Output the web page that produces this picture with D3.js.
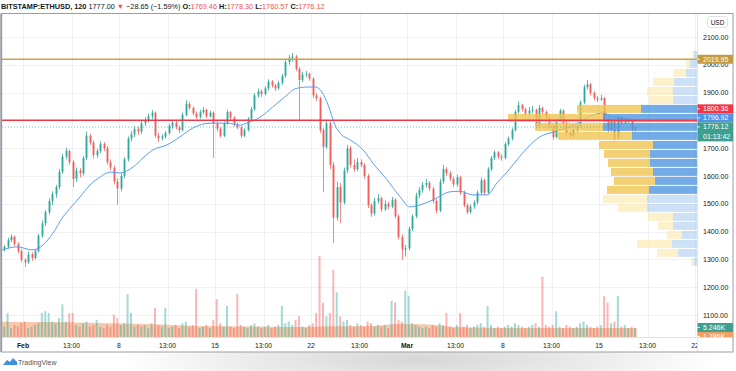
<!DOCTYPE html>
<html><head><meta charset="utf-8">
<script src="https://cdn.jsdelivr.net/npm/d3@7/dist/d3.min.js"></script>
<style>body{margin:0;background:#fff}svg{display:block;font-family:"Liberation Sans",Arial,sans-serif}</style>
</head><body><svg id="c" width="736" height="371"></svg>
<script>
// ---------- DATA (6-hour bars from 2021-01-30 12:00 UTC) ----------
const barStart = "2021-01-30T12:00:00Z";
const barHours = 6;
const opens = [1335,1345,1370,1382,1355,1330,1298,1290,1318,1305,
1330,1385,1430,1470,1510,1535,1560,1615,1670,1690,
1650,1590,1620,1610,1665,1745,1720,1675,1690,1715,
1700,1650,1630,1580,1555,1600,1660,1735,1750,1770,
1760,1790,1800,1815,1828,1745,1735,1742,1755,1780,
1792,1775,1765,1820,1860,1845,1825,1812,1830,1838,
1815,1828,1790,1770,1745,1790,1830,1810,1785,1775,
1745,1765,1805,1840,1890,1905,1895,1915,1940,1925,
1915,1935,1960,2010,2025,2030,1985,1945,1965,1968,
1950,1890,1880,1765,1705,1790,1640,1450,1560,1505,
1620,1700,1640,1625,1650,1640,1600,1495,1465,1510,
1520,1480,1500,1490,1515,1455,1380,1335,1340,1410,
1455,1530,1550,1568,1575,1555,1510,1475,1580,1625,
1610,1590,1570,1595,1540,1495,1470,1490,1505,1540,
1585,1540,1625,1665,1685,1670,1665,1715,1735,1765,
1830,1855,1840,1825,1835,1838,1780,1845,1830,1810,
1780,1740,1800,1835,1790,1755,1745,1765,1780,1865,
1920,1930,1898,1880,1875,1880,1805,1765,1795,1735,
1810,1790,1795,1800,1769.46];
const highs = [1352,1378,1390,1386,1362,1338,1305,1328,1326,1338,
1392,1440,1478,1520,1545,1568,1625,1680,1702,1695,
1658,1630,1628,1672,1760,1752,1728,1698,1725,1722,
1708,1660,1638,1592,1610,1668,1742,1762,1780,1778,
1798,1812,1825,1837,1832,1755,1750,1762,1788,1800,
1798,1782,1828,1873,1866,1850,1832,1838,1848,1842,
1835,1832,1798,1776,1796,1838,1834,1815,1792,1780,
1772,1812,1848,1898,1915,1912,1922,1948,1945,1932,
1942,1968,2018,2035,2042,2036,1992,1975,1978,1972,
1955,1898,1885,1772,1802,1795,1650,1580,1575,1630,
1712,1708,1660,1665,1660,1646,1608,1502,1522,1535,
1526,1512,1508,1525,1520,1462,1390,1352,1418,1462,
1540,1560,1578,1590,1582,1562,1518,1590,1640,1632,
1618,1598,1605,1600,1548,1502,1498,1512,1548,1595,
1590,1632,1672,1692,1690,1678,1722,1742,1772,1838,
1868,1860,1846,1848,1852,1842,1855,1850,1836,1815,
1786,1808,1842,1840,1796,1762,1772,1788,1872,1928,
1945,1935,1905,1888,1892,1885,1812,1802,1800,1818,
1815,1802,1808,1805,1778.30];
const lows = [1328,1340,1362,1348,1322,1290,1273,1284,1295,1300,
1325,1378,1420,1462,1495,1522,1552,1608,1660,1640,
1560,1578,1595,1602,1658,1712,1662,1665,1682,1690,
1640,1620,1570,1496,1545,1592,1652,1725,1740,1748,
1752,1780,1792,1805,1738,1722,1728,1735,1748,1770,
1768,1755,1760,1815,1838,1818,1805,1806,1822,1808,
1810,1665,1760,1738,1740,1785,1802,1778,1768,1736,
1740,1760,1800,1835,1882,1885,1890,1908,1918,1905,
1910,1928,1955,2000,2012,1978,1801,1938,1955,1942,
1880,1870,1755,1542,1698,1625,1359,1440,1430,1498,
1610,1630,1615,1618,1632,1590,1485,1453,1458,1500,
1470,1474,1480,1484,1448,1372,1298,1310,1332,1402,
1448,1520,1540,1558,1545,1502,1466,1470,1572,1600,
1582,1560,1562,1532,1488,1462,1464,1482,1498,1532,
1532,1535,1618,1658,1662,1655,1660,1708,1728,1760,
1825,1832,1815,1818,1826,1770,1775,1822,1802,1772,
1730,1735,1795,1782,1745,1732,1740,1758,1775,1858,
1912,1890,1872,1866,1870,1798,1758,1760,1728,1730,
1782,1785,1790,1760,1760.57];
const closes = [1345,1370,1382,1355,1330,1298,1290,1318,1305,1330,
1385,1430,1470,1510,1535,1560,1615,1670,1690,1650,
1590,1620,1610,1665,1745,1720,1675,1690,1715,1700,
1650,1630,1580,1555,1600,1660,1735,1750,1770,1760,
1790,1800,1815,1828,1745,1735,1742,1755,1780,1792,
1775,1765,1820,1860,1845,1825,1812,1830,1838,1815,
1828,1790,1770,1745,1790,1830,1810,1785,1775,1745,
1765,1805,1840,1890,1905,1895,1915,1940,1925,1915,
1935,1960,2010,2025,2030,1985,1945,1965,1968,1950,
1890,1880,1765,1705,1790,1640,1450,1560,1505,1620,
1700,1640,1625,1650,1640,1600,1495,1465,1510,1520,
1480,1500,1490,1515,1455,1380,1335,1340,1410,1455,
1530,1550,1568,1575,1555,1510,1475,1580,1625,1610,
1590,1570,1595,1540,1495,1470,1490,1505,1540,1585,
1540,1625,1665,1685,1670,1665,1715,1735,1765,1830,
1855,1840,1825,1835,1838,1780,1845,1830,1810,1780,
1740,1800,1835,1790,1755,1745,1765,1780,1865,1920,
1930,1898,1880,1875,1880,1805,1765,1795,1735,1810,
1790,1795,1800,1766,1776.12];
// volume in thousands
const volumes = [6,14,5,7,6,8,9,5,6,7,
8,14,15,14,9,8,11,19,9,14,
14,7,6,8,9,6,7,10,6,5,
7,6,13,11,7,8,25,14,6,7,
6,7,5,8,17,7,6,17,5,6,
7,5,8,9,6,7,28,5,6,7,
5,10,22,8,6,18,6,5,25,7,
6,5,7,8,6,5,6,7,5,6,
7,18,8,9,7,10,12,6,5,7,
8,14,47,20,12,14,39,26,12,9,
10,7,6,8,7,6,9,8,6,7,
6,7,5,21,20,10,9,27,24,8,
7,6,5,6,5,7,6,8,7,14,
6,5,7,14,6,7,5,6,7,8,
6,18,7,5,6,5,6,7,6,8,
7,6,5,6,7,8,6,35,7,6,
7,15,6,5,7,6,5,6,8,9,
7,6,5,6,7,24,20,8,9,24,
6,7,5,6,5];
// moving average of price (day offsets from Feb 1)
const maDays = [-1.53,-0.44,0.73,1.46,2.19,2.92,3.43,4.16,4.89,5.61,6.34,7.07,8.02,8.75,9.48,10.5,11.45,12.4,13.64,14.88,15.82,16.3,17.3,18.2,19.25,19.8,20.7,21.3,21.8,22.25,22.75,23.1,23.85,24.8,25.5,26.55,27.5,28.2,28.95,29.9,31.13,31.86,32.8,33.83,34.56,35.29,36.02,36.75,37.7,38.65,39.67,40.62,41.56,42.29,43.02,43.75,44.63];
const maValues = [1334,1345,1334,1352,1395,1453,1484,1525,1568,1596,1614,1611,1632,1665,1694,1712,1741,1773,1790,1790,1783,1790,1812,1848,1891,1913,1920,1920,1902,1855,1783,1755,1730,1694,1647,1586,1525,1489,1496,1514,1543,1545,1532,1532,1575,1614,1658,1700,1741,1758,1773,1795,1819,1827,1812,1808,1797];
// moving average of volume (thousands)
const vmaDays = [-1.53,2,5.6,9,12.9,18,20.2,22.5,25.5,27.3,29.6,31.5,36.2,44.75];
const vmaValues = [8.9,8.7,8.2,7.6,6.4,6.0,5.8,6.2,6.4,7.5,7.3,5.8,5.2,5.2];
// visible-range volume profile, top bin first
const profileTop = 2050, profileStep = 32.37;
const profileDown = [2,4,13,21,26,24,64,95,68,74,54,46,42,42,41,42,44,29,25,15,15,35,21,3];
const profileUp   = [3,7,11,23,24,24,56,94,94,65,44,47,47,44,42,48,50,50,24,24,15,25,19,3];
const valueAreaRows = [6,15];
// axes
const gridPrices = [2100,2000,1900,1800,1700,1600,1500,1400,1300,1200,1100];
const priceLabels = [2100,2000,1900,1700,1600,1500,1400,1300,1200,1100];
const timeTicks = ["2021-02-01T00:00Z","2021-02-04T13:00Z","2021-02-08T00:00Z","2021-02-11T13:00Z","2021-02-15T00:00Z","2021-02-18T13:00Z","2021-02-22T00:00Z","2021-02-25T13:00Z","2021-03-01T00:00Z","2021-03-04T13:00Z","2021-03-08T00:00Z","2021-03-11T13:00Z","2021-03-15T00:00Z","2021-03-18T13:00Z","2021-03-22T00:00Z"];
const timeLabels = ["Feb","13:00","8","13:00","15","13:00","22","13:00","Mar","13:00","8","13:00","15","13:00","22"];
const levels = {gold:2019.95, red:1800.36, ma:1796.92, last:1776.12};

// ---------- LAYOUT ----------
const svg = d3.select('#c');
const P = {l:2, r:697, t:14, b:337};
const x = d3.scaleUtc().domain([new Date("2021-02-01T00:00Z"), new Date("2021-03-22T00:00Z")]).range([23,695]);
const y = d3.scaleLinear().domain([1100,2100]).range([315,37]);
const yv = d3.scaleLinear().domain([0,188]).range([337,14]);
const t0 = new Date(barStart).getTime(), bh = barHours*3600e3;
const barX = i => x(new Date(t0 + i*bh + bh/2));
const dayX = d => x(new Date(new Date("2021-02-01T00:00Z").getTime() + d*86400e3));

const defs = svg.append('defs');
defs.append('clipPath').attr('id','clipP').append('rect').attr('x',P.l).attr('y',P.t).attr('width',P.r-P.l).attr('height',P.b-P.t);
defs.append('clipPath').attr('id','clipAx').append('rect').attr('x',P.l).attr('y',P.b).attr('width',P.r-P.l).attr('height',16);
defs.append('clipPath').attr('id','clipR').append('rect').attr('x',P.r).attr('y',P.t).attr('width',40).attr('height',P.b-P.t);
const rg = defs.append('radialGradient').attr('id','sh');
rg.append('stop').attr('offset','0').attr('stop-color','#d6d6d6');
rg.append('stop').attr('offset','0.6').attr('stop-color','#ececec');
rg.append('stop').attr('offset','1').attr('stop-color','#ffffff');

// bottom shadow
svg.append('ellipse').attr('cx',420).attr('cy',360).attr('rx',300).attr('ry',34).attr('fill','url(#sh)');
svg.append('rect').attr('x',0).attr('y',0).attr('width',736).attr('height',352).attr('fill','#fff');

// header
const hd = svg.append('text').attr('x',1).attr('y',9).attr('font-size',7.3).attr('fill','#131722');
hd.append('tspan').attr('font-weight','bold').text('BITSTAMP:ETHUSD, 120 ');
hd.append('tspan').text('1777.00 ');
hd.append('tspan').attr('fill','#ef5350').text('▼ ');
hd.append('tspan').text('−28.65 (−1.59%) ');
[['O:','1769.46'],['H:','1778.30'],['L:','1760.57'],['C:','1776.12']].forEach(([k,v])=>{
  hd.append('tspan').attr('font-weight','bold').text(k);
  hd.append('tspan').attr('fill','#ef5350').text(v+' ');
});

// grid
const g = svg.append('g').attr('clip-path','url(#clipP)');
g.selectAll('.hg').data(gridPrices).join('line').attr('x1',P.l).attr('x2',P.r)
  .attr('y1',d=>Math.round(y(d))+0.5).attr('y2',d=>Math.round(y(d))+0.5).attr('stroke','#f0f1f4');
g.selectAll('.vg').data(timeTicks).join('line').attr('y1',P.t).attr('y2',P.b)
  .attr('x1',d=>Math.round(x(new Date(d)))+0.5).attr('x2',d=>Math.round(x(new Date(d)))+0.5).attr('stroke','#f0f1f4');

// volume MA area
g.append('path').datum(vmaDays.map((d,i)=>[d,vmaValues[i]]))
  .attr('d', d3.area().x(d=>dayX(d[0])).y0(P.b).y1(d=>yv(d[1])).curve(d3.curveMonotoneX))
  .attr('fill','#f5c09e').attr('opacity',0.85);
// volume bars
g.selectAll('.vb').data(volumes).join('rect')
  .attr('x',(d,i)=>barX(i)-1).attr('width',2)
  .attr('y',d=>yv(d)).attr('height',d=>P.b-yv(d))
  .attr('fill',(d,i)=>closes[i]>=opens[i]?'rgba(38,166,154,0.42)':'rgba(239,83,80,0.42)');

// candles
const cg = g.append('g');
const idx = d3.range(closes.length);
cg.selectAll('.wk').data(idx).join('line')
  .attr('x1',i=>Math.round(barX(i))+0.5).attr('x2',i=>Math.round(barX(i))+0.5)
  .attr('y1',i=>y(highs[i])).attr('y2',i=>y(lows[i]))
  .attr('stroke',i=>closes[i]>=opens[i]?'#5fb8ad':'#f08a88').attr('stroke-width',1);
cg.selectAll('.bd').data(idx).join('rect')
  .attr('x',i=>Math.round(barX(i))-0.5).attr('width',2)
  .attr('y',i=>y(Math.max(opens[i],closes[i])))
  .attr('height',i=>Math.max(1,Math.abs(y(opens[i])-y(closes[i]))))
  .attr('fill',i=>closes[i]>=opens[i]?'#26a69a':'#ef5350').attr('opacity',0.82);

// price MA
g.append('path').datum(maDays.map((d,i)=>[d,maValues[i]]))
  .attr('d', d3.line().x(d=>dayX(d[0])).y(d=>y(d[1])).curve(d3.curveMonotoneX))
  .attr('fill','none').attr('stroke','#5b9cf6').attr('stroke-width',1);

// volume profile
const maxTot = d3.max(profileUp.map((u,k)=>u+profileDown[k]));
const pw = d3.scaleLinear().domain([0,maxTot]).range([0,189]);
const pg = g.append('g');
profileUp.forEach((u,k)=>{
  const y0 = y(profileTop - k*profileStep), y1 = y(profileTop-(k+1)*profileStep);
  const inVA = k>=valueAreaRows[0] && k<=valueAreaRows[1];
  const wu = pw(u), wd = pw(profileDown[k]);
  pg.append('rect').attr('x',P.r-wu).attr('y',y0).attr('width',wu).attr('height',y1-y0-1)
    .attr('fill',inVA?'rgba(80,150,225,0.8)':'rgba(170,205,238,0.6)');
  pg.append('rect').attr('x',P.r-wu-wd).attr('y',y0).attr('width',wd).attr('height',y1-y0-1)
    .attr('fill',inVA?'rgba(240,196,80,0.8)':'rgba(252,232,170,0.6)');
});

// horizontal levels
g.append('line').attr('x1',P.l).attr('x2',P.r).attr('y1',y(levels.gold)).attr('y2',y(levels.gold)).attr('stroke','#c9a24a').attr('stroke-width',1.6);
g.append('line').attr('x1',P.l).attr('x2',P.r).attr('y1',y(levels.red)).attr('y2',y(levels.red)).attr('stroke','#f23645').attr('stroke-width',1.6);
g.append('line').attr('x1',P.l).attr('x2',P.r).attr('y1',y(levels.last)).attr('y2',y(levels.last)).attr('stroke','#26a69a').attr('stroke-dasharray','1,2').attr('opacity',0.6);

// axes separators & frame
svg.append('line').attr('x1',P.l).attr('x2',733).attr('y1',P.b+0.5).attr('y2',P.b+0.5).attr('stroke','#e0e3eb');
svg.append('line').attr('x1',P.r+0.5).attr('x2',P.r+0.5).attr('y1',P.t).attr('y2',352).attr('stroke','#e0e3eb');
svg.append('rect').attr('x',1.5).attr('y',13.5).attr('width',731.5).attr('height',338.5).attr('fill','none').attr('stroke','#9a9da5').attr('stroke-width',1);
svg.append('line').attr('x1',1.2).attr('x2',1.2).attr('y1',13.5).attr('y2',352).attr('stroke','#9a9da5').attr('stroke-width',2);

// time axis
svg.append('g').attr('clip-path','url(#clipAx)').selectAll('text').data(timeTicks).join('text')
  .attr('x',d=>x(new Date(d))).attr('y',348).attr('text-anchor','middle').attr('font-size',6.8)
  .attr('font-weight',(d,i)=>/[A-Za-z]/.test(timeLabels[i])?'bold':'normal')
  .attr('fill','#131722').text((d,i)=>timeLabels[i]);

// price axis labels
svg.append('g').selectAll('text').data(priceLabels).join('text')
  .attr('x',703).attr('y',d=>y(d)+2.5).attr('font-size',7).attr('fill','#131722').text(d=>d.toFixed(2));

// USD box
svg.append('rect').attr('x',707.5).attr('y',16.5).attr('width',20).attr('height',11).attr('rx',2.5).attr('fill','#fff').attr('stroke','#e0e3eb');
svg.append('text').attr('x',717.5).attr('y',24.5).attr('text-anchor','middle').attr('font-size',6.5).attr('fill','#131722').text('USD');

// price tags with collision stacking
function stack(tags){
  tags.forEach(t=>{t.h=t.lines.length===1?9:19;});
  let groups = tags.slice().sort((a,b)=>a.cy-b.cy).map(t=>({items:[t]}));
  const place = gr=>{const H=d3.sum(gr.items,t=>t.h); const c=d3.mean(gr.items,t=>t.cy); gr.top=c-H/2; gr.bot=gr.top+H;};
  groups.forEach(place);
  let merged=true;
  while(merged){merged=false;
    for(let k=0;k<groups.length-1;k++){ if(groups[k].bot>groups[k+1].top){groups[k].items=groups[k].items.concat(groups[k+1].items);groups.splice(k+1,1);place(groups[k]);merged=true;break;} } }
  groups.forEach(gr=>{let yy=gr.top; gr.items.forEach(t=>{t.top=yy; yy+=t.h;});});
  return tags;
}
function drawTags(tags, clip){
  const tg = svg.append('g'); if(clip) tg.attr('clip-path',clip);
  stack(tags).forEach(t=>{
    tg.append('rect').attr('x',P.r+0.5).attr('y',t.top).attr('width',35.5).attr('height',t.h).attr('fill',t.c);
    tg.append('line').attr('x1',P.r).attr('x2',P.r+3).attr('y1',t.top+4.5).attr('y2',t.top+4.5).attr('stroke','#fff').attr('opacity',0.8);
    t.lines.forEach((s,j)=>tg.append('text').attr('x',703).attr('y',t.top+7+j*9.5).attr('font-size',7).attr('fill','#fff').text(s));
  });
}
drawTags([
  {cy:y(levels.gold), lines:[levels.gold.toFixed(2)], c:'#c49b45'},
  {cy:y(levels.red), lines:[levels.red.toFixed(2)], c:'#f23645'},
  {cy:y(levels.ma), lines:[levels.ma.toFixed(2)], c:'#4f93e6'},
  {cy:y(levels.last), lines:[levels.last.toFixed(2),'01:13:42'], c:'#3e9f8f'}
]);
drawTags([
  {cy:yv(vmaValues[vmaValues.length-1]+0.05), lines:['5.246K'], c:'#3e9f8f'},
  {cy:yv(volumes[volumes.length-1]-4.4), lines:['1.786K'], c:'#f2a060'}
], 'url(#clipR)');

// logo
const lg = svg.append('g').attr('transform','translate(3,357)');
lg.append('path').attr('d','M0,8 L4,3 L7,5 L10,1 L13,4 Q15,5 14,8 Z').attr('fill','#3f8ee0');
svg.append('text').attr('x',18).attr('y',365).attr('font-size',7).attr('fill','#50535e').text('TradingView');
</script></body></html>
